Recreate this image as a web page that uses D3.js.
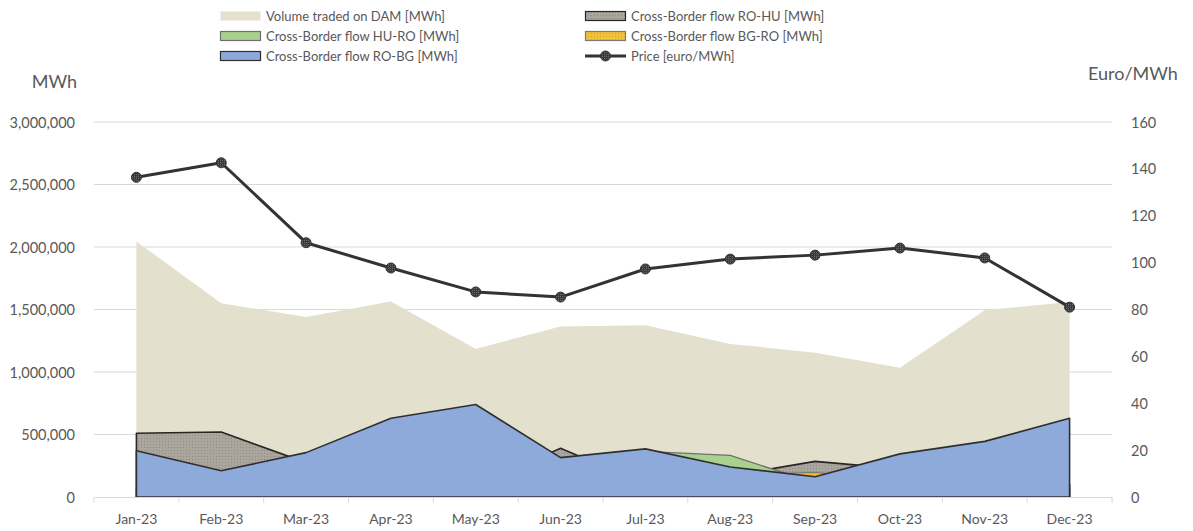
<!DOCTYPE html>
<html><head><meta charset="utf-8">
<script src="https://cdn.jsdelivr.net/npm/d3@7"></script>
<style>body{margin:0;background:#fff}text{font-family:Lato,"Open Sans",sans-serif}</style>
</head><body><svg id="c" width="1193" height="531"></svg>
<script>
const months = ["Jan-23","Feb-23","Mar-23","Apr-23","May-23","Jun-23","Jul-23","Aug-23","Sep-23","Oct-23","Nov-23","Dec-23"];
const volumeDAM = [2045000,1550000,1440000,1565000,1185000,1365000,1375000,1225000,1155000,1035000,1495000,1560000];
const flowROHU = [510000,520000,275000,150000,85000,390000,100000,170000,285000,225000,150000,100000];
const flowHURO = [60000,50000,80000,120000,60000,90000,365000,333000,112000,80000,90000,70000];
const flowBGRO = [20000,20000,30000,40000,30000,30000,40000,175000,197000,125000,60000,40000];
const flowROBG = [370000,210000,355000,630000,740000,315000,385000,240000,162000,345000,445000,630000];
const price = [136.4,142.6,108.5,97.7,87.5,85.3,97.3,101.5,103.2,106.2,102,81];
const leftTicks = [0,500000,1000000,1500000,2000000,2500000,3000000];
const rightTicks = [0,20,40,60,80,100,120,140,160];

const svg = d3.select("#c");
const L=94,R=1112,T=122,B=497;
const xb = d3.scaleBand().domain(months).range([L,R]);
const xc = d=>xb(d)+xb.bandwidth()/2;
const yL = d3.scaleLinear().domain([0,3000000]).range([B,T]);
const yR = d3.scaleLinear().domain([0,160]).range([B,T]);

const defs = svg.append("defs");
const p1 = defs.append("pattern").attr("id","dots").attr("width",3).attr("height",3).attr("patternUnits","userSpaceOnUse");
p1.append("rect").attr("width",3).attr("height",3).attr("fill","#aaa69d");
p1.append("rect").attr("width",1).attr("height",1).attr("fill","#8f8b83");
const p2 = defs.append("pattern").attr("id","ydots").attr("width",3).attr("height",3).attr("patternUnits","userSpaceOnUse");
p2.append("rect").attr("width",3).attr("height",3).attr("fill","#f3c23c");
p2.append("rect").attr("width",1).attr("height",1).attr("fill","#e0a800");
const p3 = defs.append("pattern").attr("id","mk").attr("width",2).attr("height",2).attr("patternUnits","userSpaceOnUse");
p3.append("rect").attr("width",2).attr("height",2).attr("fill","#3a3a3a");
p3.append("rect").attr("width",1).attr("height",1).attr("fill","#6a6a6a");

// gridlines
svg.append("g").selectAll("line").data(leftTicks.slice(1)).join("line")
  .attr("x1",L).attr("x2",R).attr("y1",d=>yL(d)).attr("y2",d=>yL(d))
  .attr("stroke","#d9d9d9").attr("stroke-width",1);

const idx = d3.range(months.length);
function area(vals){return d3.area().x(i=>xc(months[i])).y0(yL(0)).y1(i=>yL(vals[i]))(idx);}
svg.append("path").attr("d",area(volumeDAM)).attr("fill","#e3e0cd");
svg.append("path").attr("d",area(flowROHU)).attr("fill","url(#dots)").attr("stroke","#262626").attr("stroke-width",1.6).attr("stroke-linejoin","round");
svg.append("path").attr("d",area(flowHURO)).attr("fill","#a9d18e").attr("stroke","#6f6f6f").attr("stroke-width",1.4);
svg.append("path").attr("d",area(flowBGRO)).attr("fill","url(#ydots)").attr("stroke","#7a7a7a").attr("stroke-width",1.2);
svg.append("path").attr("d",area(flowROBG)).attr("fill","#8eaadb").attr("stroke","#2f2f2f").attr("stroke-width",1.6).attr("stroke-linejoin","round");

// bottom axis
const xa = svg.append("g").attr("transform",`translate(0,${B})`).call(d3.axisBottom(xb).tickSize(0).tickPadding(17));
xa.select(".domain").attr("stroke","#d9d9d9").attr("stroke-width",1.2);
xa.selectAll("text").attr("fill","#595959").style("font-size","14px");
svg.append("g").selectAll("line").data(d3.range(months.length+1)).join("line")
  .attr("x1",i=>L+i*xb.bandwidth()).attr("x2",i=>L+i*xb.bandwidth()).attr("y1",B).attr("y2",B+6)
  .attr("stroke","#d9d9d9");

// left axis
const la = svg.append("g").attr("transform",`translate(${L-16},0)`).call(d3.axisLeft(yL).tickValues(leftTicks).tickSize(0).tickFormat(d3.format(",")));
la.select(".domain").remove();
la.selectAll("text").attr("fill","#595959").style("font-size","14.5px").attr("dy","0.35em");
const ra = svg.append("g").attr("transform",`translate(${R+16},0)`).call(d3.axisRight(yR).tickValues(rightTicks).tickSize(0));
ra.select(".domain").remove();
ra.selectAll("text").attr("fill","#595959").style("font-size","14.5px").attr("dy","0.35em");

svg.append("text").attr("x",77).attr("y",88).attr("text-anchor","end").attr("fill","#595959").style("font-size","18px").text("MWh");
svg.append("text").attr("x",1088).attr("y",80).attr("fill","#595959").style("font-size","18px").text("Euro/MWh");

// price line
const pl = d3.line().x(i=>xc(months[i])).y(i=>yR(price[i]));
svg.append("path").attr("d",pl(idx)).attr("fill","none").attr("stroke","#333").attr("stroke-width",3).attr("stroke-linejoin","round");
svg.append("g").selectAll("circle").data(idx).join("circle")
  .attr("cx",i=>xc(months[i])).attr("cy",i=>yR(price[i])).attr("r",5)
  .attr("fill","url(#mk)").attr("stroke","#333").attr("stroke-width",1);

// legend
const leg = [
 {t:"Volume traded on DAM [MWh]",x:220,y:16,type:"v"},
 {t:"Cross-Border flow RO-HU [MWh]",x:585,y:16,type:"rohu"},
 {t:"Cross-Border flow HU-RO [MWh]",x:220,y:36,type:"huro"},
 {t:"Cross-Border flow BG-RO [MWh]",x:585,y:36,type:"bgro"},
 {t:"Cross-Border flow RO-BG [MWh]",x:220,y:56,type:"robg"},
 {t:"Price [euro/MWh]",x:585,y:56,type:"p"}];
const lg = svg.append("g");
leg.forEach(d=>{
  const g = lg.append("g");
  if(d.type==="p"){
    g.append("line").attr("x1",d.x).attr("x2",d.x+41).attr("y1",d.y).attr("y2",d.y).attr("stroke","#333").attr("stroke-width",3);
    g.append("circle").attr("cx",d.x+20.5).attr("cy",d.y).attr("r",5).attr("fill","url(#mk)").attr("stroke","#333");
  } else {
    const st = {v:["#e3e0cd","none"],rohu:["url(#dots)","#262626"],huro:["#a9d18e","#6f6f6f"],bgro:["url(#ydots)","#7a7a7a"],robg:["#8eaadb","#2f2f2f"]}[d.type];
    g.append("rect").attr("x",d.x+0.5).attr("y",d.y-4.5).attr("width",40).attr("height",9).attr("fill",st[0]).attr("stroke",st[1]).attr("stroke-width",1.2);
  }
  g.append("text").attr("x",d.x+46).attr("y",d.y).attr("dy","0.35em").attr("fill","#595959").style("font-size","13px").text(d.t);
});
</script></body></html>
